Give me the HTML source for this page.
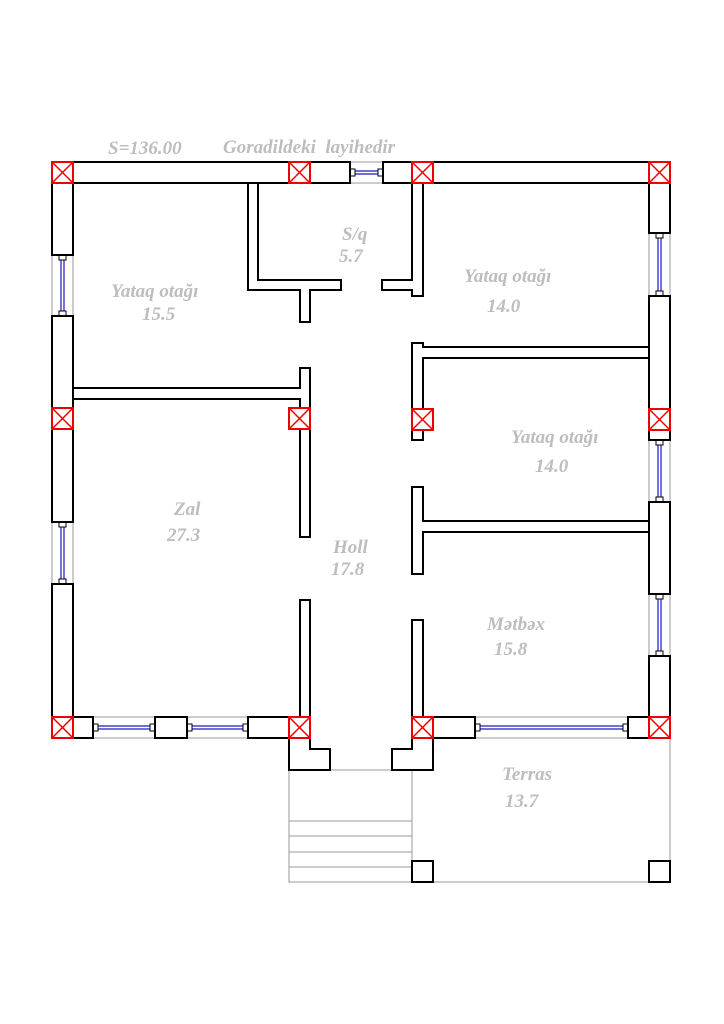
<!DOCTYPE html>
<html><head><meta charset="utf-8"><style>
html,body{margin:0;padding:0;background:#fff;}
svg{display:block;}
.w{fill:#fff;stroke:#000;stroke-width:2;}
.t{font-family:"Liberation Serif",serif;font-style:italic;font-weight:bold;fill:#bdbdbd;font-size:19px;}
.g{fill:none;stroke:#999;stroke-width:1;}
</style></head><body>
<svg width="724" height="1024" viewBox="0 0 724 1024" xmlns="http://www.w3.org/2000/svg">
<defs>
<g id="col"><rect x="0" y="0" width="21" height="21" fill="#fff" stroke="#e00" stroke-width="2"/><path d="M0 0L21 21M21 0L0 21" stroke="#e00" stroke-width="1.5"/></g>
</defs>
<g class="g">
<rect x="350" y="162" width="33" height="21"/>
<rect x="52" y="255" width="21" height="61"/>
<rect x="52" y="522" width="21" height="62"/>
<rect x="649" y="233" width="21" height="63"/>
<rect x="649" y="440" width="21" height="62"/>
<rect x="649" y="594" width="21" height="62"/>
<rect x="93" y="717" width="62" height="21"/>
<rect x="187" y="717" width="61" height="21"/>
<rect x="475" y="717" width="153" height="21"/>
</g>
<g stroke="#1a1ac0" stroke-width="1.2">
<path d="M355 171H378M355 174H378"/>
<path d="M61 260V311M64 260V311"/>
<path d="M61 527V579M64 527V579"/>
<path d="M658 238V291M661 238V291"/>
<path d="M658 445V497M661 445V497"/>
<path d="M658 599V651M661 599V651"/>
<path d="M98 726H150M98 729H150"/>
<path d="M192 726H243M192 729H243"/>
<path d="M480 726H623M480 729H623"/>
</g>
<g fill="#fff" stroke="#000" stroke-width="1">
<rect x="350" y="169" width="5" height="7"/><rect x="378" y="169" width="5" height="7"/>
<rect x="59" y="255" width="7" height="5"/><rect x="59" y="311" width="7" height="5"/>
<rect x="59" y="522" width="7" height="5"/><rect x="59" y="579" width="7" height="5"/>
<rect x="656" y="233" width="7" height="5"/><rect x="656" y="291" width="7" height="5"/>
<rect x="656" y="440" width="7" height="5"/><rect x="656" y="497" width="7" height="5"/>
<rect x="656" y="594" width="7" height="5"/><rect x="656" y="651" width="7" height="5"/>
<rect x="93" y="724" width="5" height="7"/><rect x="150" y="724" width="5" height="7"/>
<rect x="187" y="724" width="5" height="7"/><rect x="243" y="724" width="5" height="7"/>
<rect x="475" y="724" width="5" height="7"/><rect x="623" y="724" width="5" height="7"/>
</g>
<g class="g">
<rect x="289" y="770" width="123" height="112"/>
<path d="M289 821H412M289 836H412M289 852H412M289 867H412"/>
<rect x="412" y="738" width="258" height="144"/>
</g>
<g class="w">
<rect x="52" y="162" width="298" height="21"/>
<rect x="383" y="162" width="287" height="21"/>
<rect x="52" y="183" width="21" height="72"/>
<rect x="52" y="316" width="21" height="206"/>
<rect x="52" y="584" width="21" height="133"/>
<rect x="649" y="183" width="21" height="50"/>
<rect x="649" y="296" width="21" height="144"/>
<rect x="649" y="502" width="21" height="92"/>
<rect x="649" y="656" width="21" height="61"/>
<rect x="73" y="717" width="20" height="21"/>
<rect x="155" y="717" width="32" height="21"/>
<rect x="248" y="717" width="41" height="21"/>
<rect x="433" y="717" width="42" height="21"/>
<rect x="628" y="717" width="21" height="21"/>
<path d="M248 183H258V280H341V290H310V322H300V290H248Z"/>
<path d="M412 183H423V296H412V290H382V280H412Z"/>
<path d="M73 388H300V368H310V537H300V399H73Z"/>
<rect x="300" y="600" width="10" height="117"/>
<path d="M412 343H423V347H649V358H423V440H412Z"/>
<path d="M412 487H423V521H649V532H423V574H412Z"/>
<rect x="412" y="620" width="11" height="97"/>
<path d="M289 738H310V749H330V770H289Z"/>
<path d="M412 738H433V770H392V749H412Z"/>
<rect x="412" y="861" width="21" height="21"/>
<rect x="649" y="861" width="21" height="21"/>
</g>
<use href="#col" x="52" y="162"/><use href="#col" x="289" y="162"/><use href="#col" x="412" y="162"/><use href="#col" x="649" y="162"/>
<use href="#col" x="52" y="408"/><use href="#col" x="289" y="408"/><use href="#col" x="412" y="409"/><use href="#col" x="649" y="409"/>
<use href="#col" x="52" y="717"/><use href="#col" x="289" y="717"/><use href="#col" x="412" y="717"/><use href="#col" x="649" y="717"/>
<text class="t" x="108" y="154">S=136.00</text>
<text class="t" x="223" y="153" xml:space="preserve">Goradildeki  layihedir</text>
<text class="t" x="342" y="240">S/q</text>
<text class="t" x="339" y="262">5.7</text>
<text class="t" x="111" y="297">Yataq otağı</text>
<text class="t" x="142" y="320">15.5</text>
<text class="t" x="464" y="282">Yataq otağı</text>
<text class="t" x="487" y="312">14.0</text>
<text class="t" x="511" y="443">Yataq otağı</text>
<text class="t" x="535" y="472">14.0</text>
<text class="t" x="174" y="515">Zal</text>
<text class="t" x="167" y="541">27.3</text>
<text class="t" x="333" y="553">Holl</text>
<text class="t" x="331" y="575">17.8</text>
<text class="t" x="487" y="630">Mətbəx</text>
<text class="t" x="494" y="655">15.8</text>
<text class="t" x="502" y="780">Terras</text>
<text class="t" x="505" y="807">13.7</text>
</svg>
</body></html>
